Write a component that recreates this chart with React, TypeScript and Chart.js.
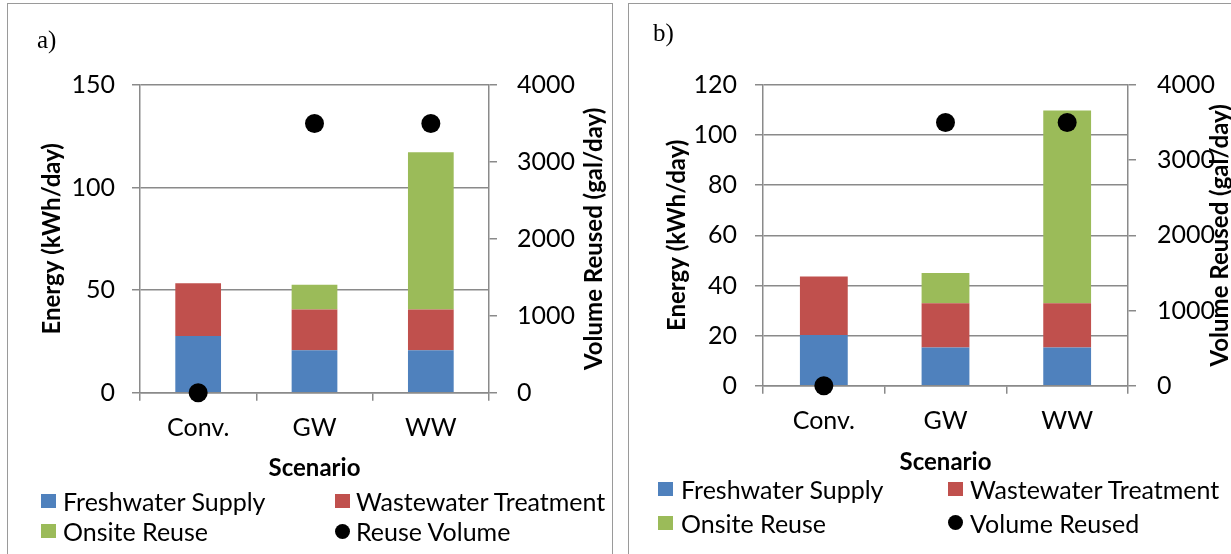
import React, { useEffect, useRef } from 'react';
import { Chart, registerables } from 'chart.js';

Chart.register(...registerables);

// ---------- data ----------
const categories = ['Conv.', 'GW', 'WW'];

const freshwaterA = [27.6, 20.7, 20.7];
const wastewaterA = [25.8, 19.8, 19.8];
const onsiteA = [0, 12.1, 76.7];
const reuseVolumeA = [0, 3500, 3500];

const freshwaterB = [20.2, 15.2, 15.2];
const wastewaterB = [23.4, 17.7, 17.7];
const onsiteB = [0, 12.1, 76.9];
const volumeReusedB = [0, 3500, 3500];

const energyMaxA = 150;
const energyStepA = 50;
const energyMaxB = 120;
const energyStepB = 20;
const volumeMax = 4000;
const volumeStep = 1000;

const seriesNames = ['Freshwater Supply', 'Wastewater Treatment', 'Onsite Reuse'];

// ---------- style ----------
const BLUE = '#4F81BD';
const RED = '#C0504D';
const GREEN = '#9BBB59';
const GRID = '#8a8a8a';
const FONT = 'Lato, "Open Sans", sans-serif';
const TEXT_SIZE = 25;

Chart.defaults.font.family = FONT;
Chart.defaults.color = '#000';

const rightTitlePlugin = {
  id: 'rightTitle',
  afterDraw(chart: any, _args: any, opts: any) {
    const { ctx, chartArea } = chart;
    ctx.save();
    ctx.translate(opts.x, (chartArea.top + chartArea.bottom) / 2);
    ctx.rotate(-Math.PI / 2);
    ctx.font = `bold 24px ${FONT}`;
    ctx.fillStyle = '#000';
    ctx.textAlign = 'center';
    ctx.textBaseline = 'middle';
    ctx.fillText(opts.text, 0, 0);
    ctx.restore();
  },
};

type PanelSpec = {
  left: number;
  top: number;
  width: number;
  height: number;
  areaTop: number;
  yWidth: number;
  y1Width: number;
  xHeight: number;
  yPad: number;
  y1Pad: number;
  xPad: number;
  xTitlePad: number;
  yTitlePad: number;
  rightTitleX: number;
  yMax: number;
  yStep: number;
  fresh: number[];
  waste: number[];
  onsite: number[];
  vol: number[];
  volLabel: string;
};

function buildConfig(p: PanelSpec): any {
  const tickFont = { size: TEXT_SIZE, family: FONT };
  const titleFont = { size: 24, weight: 'bold' as const, family: FONT };
  const plain = (v: any) => String(v);
  return {
    type: 'bar',
    data: {
      labels: categories,
      datasets: [
        { label: seriesNames[0], data: p.fresh, backgroundColor: BLUE, yAxisID: 'y', order: 1, barPercentage: 0.393, categoryPercentage: 1 },
        { label: seriesNames[1], data: p.waste, backgroundColor: RED, yAxisID: 'y', order: 1, barPercentage: 0.393, categoryPercentage: 1 },
        { label: seriesNames[2], data: p.onsite, backgroundColor: GREEN, yAxisID: 'y', order: 1, barPercentage: 0.393, categoryPercentage: 1 },
        {
          type: 'line',
          label: p.volLabel,
          data: p.vol,
          yAxisID: 'y1',
          showLine: false,
          pointRadius: 9.5,
          pointBackgroundColor: '#000',
          pointBorderColor: '#000',
          pointBorderWidth: 0,
          borderWidth: 0,
          order: 0,
          clip: false,
        },
      ],
    },
    options: {
      animation: false,
      responsive: false,
      maintainAspectRatio: false,
      layout: { padding: { top: p.areaTop, left: 0, right: 0, bottom: 0 } },
      plugins: {
        legend: { display: false },
        tooltip: { enabled: false },
        rightTitle: { text: 'Volume Reused (gal/day)', x: p.rightTitleX },
      },
      scales: {
        x: {
          stacked: true,
          offset: true,
          grid: { offset: true, drawOnChartArea: false, drawTicks: true, tickLength: 8, color: GRID, lineWidth: 1.5 },
          border: { display: true, color: GRID, width: 1.5 },
          ticks: { padding: p.xPad, font: tickFont, color: '#000', maxRotation: 0 },
          title: { display: true, text: 'Scenario', font: titleFont, color: '#000', padding: { top: 0, bottom: p.xTitlePad } },
          afterFit: (s: any) => { s.height = p.xHeight; },
        },
        y: {
          stacked: true,
          position: 'left',
          min: 0,
          max: p.yMax,
          ticks: { stepSize: p.yStep, padding: p.yPad, font: tickFont, color: '#000', callback: plain },
          grid: { color: GRID, lineWidth: 1.5, tickLength: 8 },
          border: { display: true, color: GRID, width: 1.5 },
          title: { display: true, text: 'Energy (kWh/day)', font: titleFont, color: '#000', padding: { top: p.yTitlePad, bottom: 0 } },
          afterFit: (s: any) => { s.width = p.yWidth; },
        },
        y1: {
          position: 'right',
          min: 0,
          max: volumeMax,
          ticks: { stepSize: volumeStep, padding: p.y1Pad, font: tickFont, color: '#000', callback: plain },
          grid: { drawOnChartArea: false, color: GRID, lineWidth: 1.5, tickLength: 8 },
          border: { display: true, color: GRID, width: 1.5 },
          afterFit: (s: any) => { s.width = p.y1Width; },
        },
      },
    },
    plugins: [rightTitlePlugin],
  };
}

const panelA: PanelSpec = {
  left: 8, top: 4, width: 604, height: 550,
  areaTop: 81, yWidth: 132, y1Width: 123, xHeight: 161.3,
  yPad: 17, y1Pad: 20, xPad: 12, xTitlePad: 71.6, yTitlePad: 29.6, rightTitleX: 586,
  yMax: energyMaxA, yStep: energyStepA,
  fresh: freshwaterA, waste: wastewaterA, onsite: onsiteA, vol: reuseVolumeA, volLabel: 'Reuse Volume',
};

const panelB: PanelSpec = {
  left: 629, top: 4, width: 602, height: 550,
  areaTop: 81, yWidth: 134, y1Width: 103, xHeight: 168.3,
  yPad: 18, y1Pad: 21, xPad: 12, xTitlePad: 77.6, yTitlePad: 33.6, rightTitleX: 591,
  yMax: energyMaxB, yStep: energyStepB,
  fresh: freshwaterB, waste: wastewaterB, onsite: onsiteB, vol: volumeReusedB, volLabel: 'Volume Reused',
};

function ChartPanel({ spec }: { spec: PanelSpec }) {
  const ref = useRef<HTMLCanvasElement | null>(null);
  useEffect(() => {
    if (!ref.current) return;
    const chart = new Chart(ref.current, buildConfig(spec));
    return () => chart.destroy();
  }, [spec]);
  return (
    <canvas
      ref={ref}
      width={spec.width}
      height={spec.height}
      style={{ position: 'absolute', left: spec.left, top: spec.top, width: spec.width, height: spec.height }}
    />
  );
}

type LegendItem = { label: string; color: string; circle?: boolean; boxX: number; textX: number; cy: number };

function LegendEntry({ item }: { item: LegendItem }) {
  return (
    <>
      <div
        style={{
          position: 'absolute',
          left: item.boxX,
          top: item.cy - (item.circle ? 7.5 : 7),
          width: 15,
          height: item.circle ? 15 : 14,
          background: item.color,
          borderRadius: item.circle ? '50%' : 0,
        }}
      />
      <div
        style={{
          position: 'absolute',
          left: item.textX,
          top: item.cy - 15,
          height: 30,
          lineHeight: '30px',
          fontFamily: FONT,
          fontSize: TEXT_SIZE,
          color: '#000',
          whiteSpace: 'nowrap',
        }}
      >
        {item.label}
      </div>
    </>
  );
}

const legendA: LegendItem[] = [
  { label: seriesNames[0], color: BLUE, boxX: 41, textX: 63, cy: 501 },
  { label: seriesNames[1], color: RED, boxX: 335, textX: 356, cy: 501 },
  { label: seriesNames[2], color: GREEN, boxX: 41, textX: 63, cy: 531 },
  { label: 'Reuse Volume', color: '#000', circle: true, boxX: 335, textX: 356, cy: 531 },
];

const legendB: LegendItem[] = [
  { label: seriesNames[0], color: BLUE, boxX: 658, textX: 681, cy: 489 },
  { label: seriesNames[1], color: RED, boxX: 948, textX: 970, cy: 489 },
  { label: seriesNames[2], color: GREEN, boxX: 658, textX: 681, cy: 522.5 },
  { label: 'Volume Reused', color: '#000', circle: true, boxX: 948, textX: 970, cy: 522.5 },
];

export default function App() {
  return (
    <div
      style={{
        position: 'fixed',
        left: 0,
        top: 0,
        width: 1231,
        height: 554,
        overflow: 'hidden',
        background: '#fff',
      }}
    >
      <div style={{ position: 'absolute', left: 7, top: 3, width: 604, height: 600, border: '1.5px solid #9a9a9a' }} />
      <div style={{ position: 'absolute', left: 628, top: 3, width: 640, height: 600, border: '1.5px solid #9a9a9a' }} />
      <ChartPanel spec={panelA} />
      <ChartPanel spec={panelB} />
      <div style={{ position: 'absolute', left: 37, top: 26, fontFamily: '"Liberation Serif", serif', fontSize: 25, lineHeight: '28px', color: '#000' }}>a)</div>
      <div style={{ position: 'absolute', left: 653, top: 19, fontFamily: '"Liberation Serif", serif', fontSize: 25, lineHeight: '28px', color: '#000' }}>b)</div>
      {legendA.map((it) => <LegendEntry key={'a' + it.label} item={it} />)}
      {legendB.map((it) => <LegendEntry key={'b' + it.label} item={it} />)}
    </div>
  );
}
